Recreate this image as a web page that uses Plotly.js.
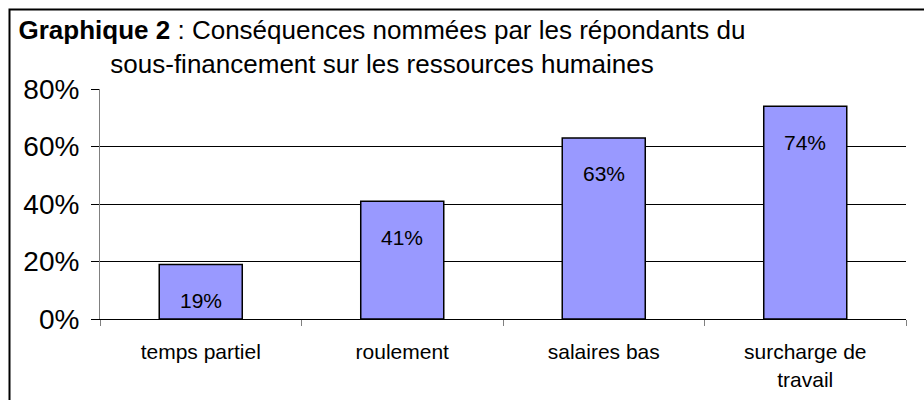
<!DOCTYPE html>
<html>
<head>
<meta charset="utf-8">
<script src="https://cdn.plot.ly/plotly-3.0.1.min.js"></script>
<style>
html,body{margin:0;padding:0;background:#fff;}
#chart{width:924px;height:400px;}
</style>
</head>
<body>
<div id="chart"></div>
<script>
const categories = ['temps partiel', 'roulement', 'salaires bas', 'surcharge de travail'];
const tickLabels = ['temps partiel', 'roulement', 'salaires bas', 'surcharge de<br>travail'];
const values = [19, 41, 63, 74];
const yTicks = [0, 20, 40, 60, 80];
const titleText = '<b>Graphique 2</b> : Conséquences nommées par les répondants du<br>sous-financement sur les ressources humaines';

const FONT = '"Liberation Sans", Arial, sans-serif';

const trace = {
  type: 'bar',
  x: categories,
  y: values,
  marker: {color: '#9999FF', line: {color: '#000000', width: 1.5}},
  hoverinfo: 'none'
};

const annotations = categories.map((c, i) => ({
  x: c, y: values[i], xref: 'x', yref: 'y',
  text: values[i] + '%',
  showarrow: false,
  yanchor: 'middle',
  yshift: -36,
  font: {family: FONT, size: 21, color: '#000'}
}));

const layout = {
  width: 924, height: 400,
  margin: {l: 100, r: 18, t: 89, b: 81},
  paper_bgcolor: '#fff', plot_bgcolor: '#fff',
  font: {family: FONT, color: '#000'},
  showlegend: false,
  bargap: 0.588,
  title: {
    text: titleText,
    font: {family: FONT, size: 26, color: '#000'},
    xref: 'container', x: 382 / 924, xanchor: 'center',
    yref: 'container', y: 1 - 39 / 400, yanchor: 'top'
  },
  xaxis: {
    type: 'category',
    tickvals: categories,
    ticktext: tickLabels,
    tickson: 'boundaries',
    ticks: 'outside', ticklen: 6, tickcolor: '#808080', tickwidth: 1,
    ticklabelstandoff: 14,
    showline: true, linecolor: '#000', linewidth: 1,
    showgrid: false, zeroline: false,
    tickfont: {family: FONT, size: 21, color: '#000'},
    fixedrange: true
  },
  yaxis: {
    range: [0, 80],
    tickvals: yTicks,
    ticktext: yTicks.map(v => v + '%'),
    ticks: 'outside', ticklen: 8, tickcolor: '#000', tickwidth: 1,
    ticklabelstandoff: 6,
    showline: true, linecolor: '#808080', linewidth: 1,
    showgrid: true, gridcolor: '#000', gridwidth: 1,
    zeroline: false,
    tickfont: {family: FONT, size: 28, color: '#000'},
    fixedrange: true
  },
  annotations: annotations,
  shapes: [{
    type: 'rect', xref: 'paper', yref: 'paper',
    x0: (9.5 - 100) / 806, x1: 1.1,
    y0: -0.5, y1: (319 - 9.5) / 230,
    line: {color: '#000', width: 2},
    fillcolor: 'rgba(0,0,0,0)',
    layer: 'above'
  }]
};

Plotly.newPlot('chart', [trace], layout, {displayModeBar: false, staticPlot: true});
</script>
</body>
</html>
